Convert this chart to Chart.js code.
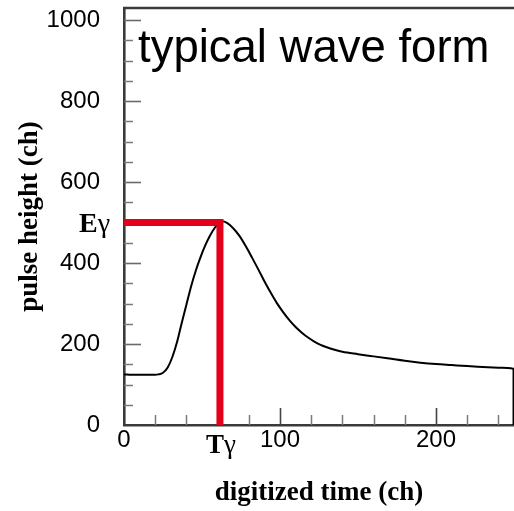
<!DOCTYPE html>
<html>
<head>
<meta charset="utf-8">
<script src="https://cdn.jsdelivr.net/npm/chart.js@4.4.1/dist/chart.umd.min.js"></script>
<style>
  html, body { margin: 0; padding: 0; background: #fff; }
  #c { display: block; }
</style>
</head>
<body>
<canvas id="c" width="514" height="511"></canvas>
<script>
// ---- data ----
const waveX = [0, 5, 10, 15, 20, 22, 25, 28, 31, 34, 37, 40, 43, 46, 49, 52, 55, 58, 61, 63,
  66, 70, 74, 78, 82, 86, 90, 94, 98, 102, 106, 110, 114, 118, 122, 126, 130, 135, 140,
  150, 160, 170, 180, 190, 200, 210, 220, 230, 240, 248, 249.7, 249.7];
const waveY = [125, 124, 124, 124, 124, 125, 129, 142, 168, 205, 252, 297, 342, 381, 414, 443, 467, 486, 499, 503,
  499, 486, 467, 442, 414, 385, 355, 327, 301, 279, 259, 242, 228, 216, 206, 198, 192, 186, 181,
  175, 169.5, 164, 158.5, 154, 150.5, 148, 145.5, 143.5, 141.5, 140, 139, 0];

const peakT = 61.5;   // T gamma (ch)
const peakE = 500;    // E gamma (ch)
const markerX = [0, peakT, peakT];
const markerY = [peakE, peakE, 0];

const xTicks = [0, 100, 200];
const xTickLabels = ['0', '100', '200'];
const xMinorTicks = [20, 40, 60, 80, 120, 140, 160, 180, 220, 240];
const yTicks = [0, 200, 400, 600, 800, 1000];
const yTickLabels = ['0', '200', '400', '600', '800', '1000'];
const yMinorTicks = [50, 100, 150, 250, 300, 350, 450, 500, 550, 650, 700, 750, 850, 900, 950];

const titleText = 'typical wave form';
const xTitle = 'digitized time (ch)';
const yTitle = 'pulse height (ch)';

// ---- build ----
const wavePoints = waveX.map((x, i) => ({ x: x, y: waveY[i] }));
const markerPoints = markerX.map((x, i) => ({ x: x, y: markerY[i] }));

const SANS = '"Liberation Sans", Arial, sans-serif';
const SERIF = '"Liberation Serif", "Times New Roman", serif';

const decorPlugin = {
  id: 'decor',
  beforeDatasetsDraw(chart) {
    const { ctx, chartArea: a, scales: { x, y } } = chart;
    ctx.save();
    function seg(x1, y1, x2, y2, col, w) {
      ctx.beginPath();
      ctx.strokeStyle = col;
      ctx.lineWidth = w;
      ctx.moveTo(x1, y1);
      ctx.lineTo(x2, y2);
      ctx.stroke();
    }
    yMinorTicks.forEach(v => {
      const p = Math.round(y.getPixelForValue(v)) + 0.5;
      seg(a.left, p, a.left + 9, p, '#7a7a7a', 1.5);
    });
    yTicks.forEach(v => {
      if (v === 0) return;
      const p = Math.round(y.getPixelForValue(v)) + 0.5;
      seg(a.left, p, a.left + 17, p, '#6a6a6a', 1.6);
    });
    xMinorTicks.forEach(v => {
      const p = Math.round(x.getPixelForValue(v)) + 0.5;
      seg(p, a.bottom, p, a.bottom - 10, '#7a7a7a', 1.5);
    });
    xTicks.forEach(v => {
      if (v === 0) return;
      const p = Math.round(x.getPixelForValue(v)) + 0.5;
      seg(p, a.bottom, p, a.bottom - 17, '#444', 1.6);
    });
    // top frame line
    seg(a.left - 1, a.top, a.right, a.top, '#3a3a3a', 2.6);
    ctx.restore();
  },
  afterDraw(chart) {
    const { ctx, scales: { x, y } } = chart;
    ctx.save();
    ctx.fillStyle = '#000';
    ctx.textBaseline = 'alphabetic';
    // title inside plot
    ctx.font = '45.5px ' + SANS;
    ctx.textAlign = 'left';
    ctx.fillText(titleText, 138, 62);

    // E gamma label
    const ey = y.getPixelForValue(peakE);
    ctx.font = '28px ' + SERIF;
    const gw = ctx.measureText('\u03b3').width;
    ctx.textAlign = 'right';
    ctx.fillText('\u03b3', 110, ey + 9);
    ctx.font = 'bold 28px ' + SERIF;
    ctx.fillText('E', 110 - gw, ey + 9);

    // T gamma label
    const tx = x.getPixelForValue(peakT);
    ctx.font = 'bold 27px ' + SERIF;
    const tw = ctx.measureText('T').width;
    ctx.font = '27px ' + SERIF;
    const gw2 = ctx.measureText('\u03b3').width;
    const startX = tx + 1 - (tw + gw2) / 2;
    ctx.textAlign = 'left';
    ctx.font = 'bold 27px ' + SERIF;
    ctx.fillText('T', startX, 453);
    ctx.font = '27px ' + SERIF;
    ctx.fillText('\u03b3', startX + tw, 453);
    ctx.restore();
  }
};

new Chart(document.getElementById('c'), {
  type: 'scatter',
  data: {
    datasets: [
      {
        data: markerPoints,
        showLine: true,
        borderColor: 'rgb(226,0,26)',
        borderWidth: 7,
        pointRadius: 0,
        borderCapStyle: 'butt',
        borderJoinStyle: 'miter',
        order: 0
      },
      {
        data: wavePoints,
        showLine: true,
        borderColor: '#000',
        borderWidth: 2,
        pointRadius: 0,
        cubicInterpolationMode: 'monotone',
        order: 1
      }
    ]
  },
  options: {
    responsive: false,
    animation: false,
    events: [],
    layout: { padding: { top: 8, right: 0, bottom: 0, left: 0 } },
    plugins: { legend: { display: false }, tooltip: { enabled: false }, title: { display: false } },
    scales: {
      x: {
        type: 'linear',
        min: 0,
        max: 250,
        grid: { display: false, drawTicks: false },
        border: { display: true, color: '#3a3a3a', width: 2.6 },
        afterBuildTicks(scale) { scale.ticks = xTicks.map(v => ({ value: v })); },
        afterFit(scale) {
          scale.height = 86;
          scale.paddingLeft = 0;
          scale.paddingRight = 0;
        },
        ticks: {
          color: '#000',
          padding: 1,
          maxRotation: 0,
          autoSkip: false,
          font: { family: SANS, size: 24 },
          callback: (v) => { const i = xTicks.indexOf(v); return i >= 0 ? xTickLabels[i] : ''; }
        },
        title: {
          display: true,
          text: xTitle,
          color: '#000',
          padding: { top: 0, bottom: 2 },
          font: { family: SERIF, size: 27, weight: 'bold' }
        }
      },
      y: {
        type: 'linear',
        min: 0,
        max: 1030,
        grid: { display: false, drawTicks: false },
        border: { display: true, color: '#3a3a3a', width: 2.6 },
        afterBuildTicks(scale) { scale.ticks = yTicks.map(v => ({ value: v })); },
        afterFit(scale) {
          scale.width = 124;
          scale.paddingTop = 0;
          scale.paddingBottom = 0;
        },
        ticks: {
          color: '#000',
          padding: 24,
          autoSkip: false,
          font: { family: SANS, size: 24 },
          callback: (v) => { const i = yTicks.indexOf(v); return i >= 0 ? yTickLabels[i] : ''; }
        },
        title: {
          display: true,
          text: yTitle,
          color: '#000',
          padding: { top: 14, bottom: 0 },
          font: { family: SERIF, size: 27, weight: 'bold' }
        }
      }
    }
  },
  plugins: [decorPlugin]
});
</script>
</body>
</html>
